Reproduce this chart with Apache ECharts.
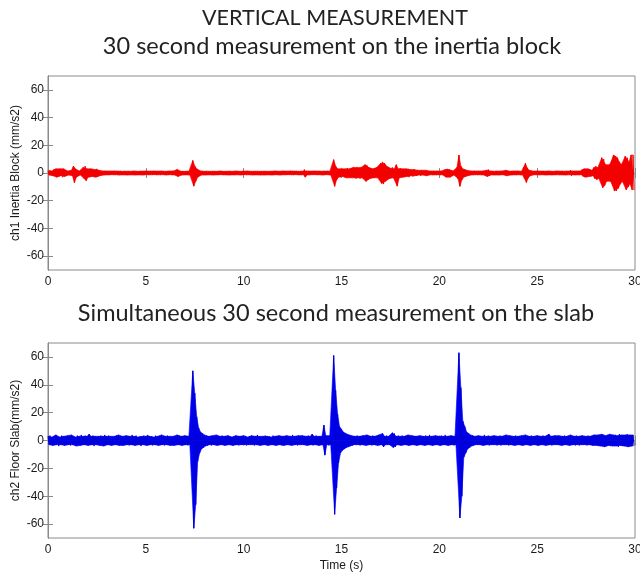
<!DOCTYPE html>
<html>
<head>
<meta charset="utf-8">
<script src="https://cdn.jsdelivr.net/npm/echarts@6/dist/echarts.min.js"></script>
<style>
html,body{margin:0;padding:0;background:#fff;}
#c{width:640px;height:575px;}
</style>
</head>
<body>
<div id="c"></div>
<script>
// Time axis: bins of 0.1 s starting at 0 s
const BIN_START = 0;
const BIN_STEP = 0.1;
const Y_TICKS = [-60, -40, -20, 0, 20, 40, 60];

// ch1 Inertia Block: positive and negative envelope per 0.1 s bin (mm/s2)
const RED_HI = [
  1.5,2,1.5,2.5,3,2,3,2.5,3,2,
  1.5,1.5,2,5,3,2,1.5,2,4,5,
  3,2.5,3,2,2.5,3,2,1.5,1.5,1.5,
  1.5,1.2,1.5,1.3,1.5,1.2,1.4,1.5,1.2,1.5,
  1.3,1.5,1.2,1.4,1.5,1.3,1.2,1.5,1.4,1.2,
  1.5,1.3,1.4,1.2,1.5,1.3,1.4,1.2,1.5,1.3,
  1.2,1.4,1.5,1.3,1.5,1.4,2.5,1.5,1.3,1.4,
  1.2,1.5,1.3,1.4,9,5,3,2,1.5,1.4,
  1.3,1.5,1.2,1.4,1.3,1.5,1.2,1.4,1.5,1.3,
  1.2,1.4,1.3,1.5,1.2,1.3,1.5,1.4,1.2,1.3,
  1.4,1.2,1.5,1.3,1.2,1.4,1.3,1.5,1.2,1.4,
  1.3,1.5,1.2,1.4,1.3,1.2,1.5,1.4,1.3,1.2,
  1.5,1.3,1.4,1.2,1.5,1.3,1.4,1.5,1.2,1.3,
  1.4,2.5,1.5,1.3,1.4,1.2,1.5,1.3,1.4,1.5,
  1.3,1.5,1.4,1.5,1.3,1.5,9.6,5,3,2.5,
  3,2.5,3,3.5,3,3.5,4,3.5,4,3.5,
  4,3.5,6,5.5,4,3.5,3,3.5,4,3,
  7,8,7,5,4,3.5,4,3,6,3,
  3.5,3,2.5,3,3,2.5,2,2.5,2,2,
  1.5,2,1.5,2,1.5,1.5,1.3,1.5,1.4,1.5,
  1.3,1.5,1.4,2.5,3,2.5,2,1.5,1.5,4,
  13,5,3,2.5,2,1.5,1.5,1.4,1.5,1.3,
  1.5,1.4,1.5,1.3,2,2.5,1.5,1.4,1.3,1.5,
  1.4,1.3,1.5,1.4,2,1.5,1.3,1.4,1.5,1.3,
  1.5,1.4,1.3,4,7,3.5,2,1.5,1.4,1.3,
  1.5,1.3,1.4,1.5,1.3,1.4,1.5,1.3,1.2,1.4,
  1.5,1.3,1.4,1.5,1.3,1.5,1.4,2,1.5,1.4,
  1.5,1.4,1.5,2.5,3,2.5,3,2.5,2,4,
  5,4,3.5,11,10,6,5,6,9,13,
  12,11,8,6,7,12,11,8,13,13
];
const RED_LO = [
  1.5,1.5,2,2,3,2.5,2,3,2.5,2,
  1.5,1.5,2,7,3,2,1.5,2,4,5.5,
  3,3,2.5,2.5,3,2.5,2,1.5,1.5,1.3,
  1.4,1.5,1.2,1.5,1.3,1.4,1.5,1.2,1.4,1.3,
  1.5,1.2,1.4,1.3,1.5,1.2,1.4,1.3,1.5,1.4,
  1.2,1.5,1.3,1.4,1.2,1.5,1.3,1.5,1.2,1.4,
  1.5,1.3,1.2,1.5,1.4,1.3,2.5,1.4,1.5,1.2,
  1.4,1.3,1.5,1.3,9.5,6,3,2,1.5,1.3,
  1.5,1.2,1.4,1.3,1.5,1.2,1.4,1.3,1.2,1.5,
  1.4,1.3,1.5,1.2,1.4,1.5,1.3,1.2,1.5,1.4,
  1.2,1.5,1.3,1.4,1.5,1.2,1.4,1.3,1.5,1.2,
  1.5,1.3,1.4,1.2,1.5,1.4,1.3,1.2,1.5,1.4,
  1.3,1.5,1.2,1.4,1.3,1.5,1.2,1.3,1.4,1.5,
  1.2,3,1.4,1.5,1.3,1.4,1.2,1.5,1.3,1.4,
  1.5,1.3,1.2,1.4,1.5,1.4,9.6,5,3,3,
  2.5,3,3.5,3,3.5,3,3.5,4,3.5,4,
  3.5,4,6,5,4,3.5,3.5,3,3.5,4,
  7.5,8,6,5,4,3.5,3.5,3,9.5,3.5,
  3,3,2.5,2.5,3,2,2.5,2,2,1.5,
  2,1.5,1.5,2,1.5,1.3,1.5,1.4,1.5,1.3,
  1.5,1.3,1.5,3,2.5,3,2,1.5,1.4,4,
  9.6,5,3,2.5,2,1.5,1.4,1.5,1.3,1.5,
  1.3,1.5,1.4,1.5,2.5,2,1.4,1.5,1.5,1.3,
  1.5,1.4,1.3,1.5,2,1.4,1.5,1.3,1.4,1.5,
  1.3,1.5,1.4,4,6.8,3.5,2,1.5,1.3,1.4,
  1.4,1.5,1.3,1.4,1.5,1.3,1.4,1.5,1.4,1.3,
  1.3,1.5,1.4,1.3,1.5,1.4,1.3,2,1.4,1.5,
  1.4,1.5,1.3,2.5,3,3,2.5,2.5,2,4,
  5,4,3.5,10.6,9,6,5,6,9,13,
  13,11,8,6,7,12,10,8,12,12
];

// ch2 Floor Slab: positive and negative envelope per 0.1 s bin (mm/s2)
const BLUE_HI = [
  3,3.5,2.5,3,4,3,2.5,3.5,3,3,
  3.5,3,4,3,2.5,3.5,3,4,3,3.5,
  3,4.5,3,3.5,3,2.5,3,3.5,3,4,
  3,3.5,3,2.5,3,3.5,4,3,3,2.5,
  3.5,3,3,4,3,3.5,2.5,3,3,3.5,
  3,4,3,3,2.5,3.5,3,3,4,3,
  3,3.5,3,2.5,3,3,4,3.5,3,3,
  3.5,3,3,4,50,34,17,9,6,5,
  4,3.5,3,3,3.5,3,4,3,3,3.5,
  3,3,3.5,3,2.5,3,3.5,3,3,3,
  3.5,3,2.5,3,3.5,3,3,4,3,2.5,
  3,3.5,3,3,2.5,3.5,3,3,3.5,3,
  3,3,3.5,2.5,3,4,3,3,3.5,3,
  3.5,3,3,3.5,3,4.5,3,3.5,3,3,
  3,11,3.5,3,3.5,3,61,36,19,10,
  8,6,5,4.5,4,3.5,3,3,3.5,3,
  3,3.5,3,4,3,3,3.5,3,3,4,
  3,5,3,3.5,3,3,5.5,5,3,3.5,
  3,3.5,3,3,4,3,3.5,3,3,3,
  3.5,3,3,3.5,3,4,3,3,3.5,3,
  3,3.5,3,4,3,3,3.5,3,3,4,
  63,38,14,10,6,5,4,3.5,3,3,
  3.5,3,3,4,3,3.5,3,3,3.5,3,
  3,3.5,3,3,4,3,3.5,3,3,3.5,
  3,3,3.5,3,4,3,3,3.5,3,3,
  3.5,3,3,3.5,3,3,4.5,3,3,3.5,
  3,3.5,3,3,3.5,3,3,4,3,3,
  3.5,3,3,3.5,3,3,3.5,3,3,4,
  3.5,4,3.5,4.5,4,3.5,4,4.5,3.5,4,
  4,3.5,4.5,4,3.5,4,4.5,4,3.5,4
];
const BLUE_LO = [
  3,3,3.5,3,3,4,3,3,3.5,3,
  3,3.5,3,3,4,3,3.5,3,3,3,
  3.5,3,3,4,3,3,3.5,3,4,3,
  3,3,3.5,3,3,3,3.5,3,3.5,3,
  3,3.5,3,3,3.5,3,3,4,3,3,
  3.5,3,3,3.5,3,3,3.5,3,3,3.5,
  3,3,3.5,3,3.5,3,3,3,3.5,3,
  3,3.5,3,4,63,46,15,9,6,5,
  4,3.5,3,3.5,3,3,3.5,3,3,3,
  3.5,3,3,3,3.5,3,3,3.5,3,3,
  3,3.5,3,3,3,3.5,3,3,3.5,3,
  3,3,3.5,3,3,3,3.5,3,3,3.5,
  3.5,3,3,3,3.5,3,3,3.5,3,3,
  3,3,3.5,3,3,3.5,3,3,3.5,3,
  3,10.5,3,3.5,3,3,53,34,16,9,
  7,6,5,4.5,4,3.5,3,3,3,3.5,
  3,3,3.5,3,3,3.5,3,3,3.5,3,
  3,4.5,3,3,3,3,5,4.5,3,3,
  3.5,3,3,3,3.5,3,3,3,3.5,3,
  3,3,3.5,3,3,3,3.5,3,3,3,
  3.5,3,3,3,3.5,3,3,3.5,3,3,
  55.6,40,12,9,6,5,4,3.5,3,3,
  3,3,3.5,3,3,3.5,3,3,3,3.5,
  3,3.5,3,3,3,3.5,3,3,3.5,3,
  3,3,3.5,3,3,3,3.5,3,3,3,
  3.5,3,3,3,3.5,3,3,3.5,3,3,
  3,3,3.5,3,3,3,3.5,3,3,3.5,
  3,3.5,3,3,3,3.5,3,3,3.5,3,
  3.5,4,4,3.5,4.5,4,3.5,4,4,3.5,
  4,4.5,3.5,4,4,3.5,4.5,4,4,3.5
];

const TITLE_1 = 'VERTICAL MEASUREMENT';
const TITLE_2 = '30 second measurement on the inertia block';
const TITLE_3 = 'Simultaneous 30 second measurement on the slab';
const Y_NAME_1 = 'ch1 Inertia Block (mm/s2)';
const Y_NAME_2 = 'ch2 Floor Slab(mm/s2)';
const X_NAME = 'Time (s)';

// Oscillating trace: positive peak then negative peak in each bin
function trace(hi, lo) {
  const d = [];
  for (let i = 0; i < hi.length; i++) {
    const t = BIN_START + i * BIN_STEP;
    d.push([t, hi[i]]);
    d.push([t + BIN_STEP / 2, -lo[i]]);
  }
  return d;
}
// Envelope edge (upper with sign +1, lower with sign -1)
function edge(vals, sign, offset) {
  return vals.map((v, i) => [BIN_START + i * BIN_STEP + offset, sign * v]);
}

const AX = '#8a8a8a';
const LBL = '#1a1a1a';
const FONT = 'Liberation Sans, Arial, sans-serif';
const TFONT = 'Lato, Open Sans, sans-serif';

function xAx(grid, pos, showLabel, name) {
  return {
    gridIndex: grid, type: 'value', position: pos, min: 0, max: 30, interval: 5,
    axisLine: { show: true, lineStyle: { color: AX, width: 1 } },
    axisTick: { show: true, inside: true, length: 5, lineStyle: { color: AX } },
    axisLabel: { show: showLabel, color: LBL, fontSize: 12, fontFamily: FONT, margin: 6 },
    splitLine: { show: false },
    name: name || '', nameLocation: 'middle', nameGap: 22, nameMoveOverlap: false,
    nameTextStyle: { color: LBL, fontSize: 12, fontFamily: FONT }
  };
}
function yAx(grid, pos, showLabel, name) {
  return {
    gridIndex: grid, type: 'value', position: pos, min: -70, max: 70, interval: 10,
    axisLine: { show: true, lineStyle: { color: AX, width: 1 } },
    axisTick: { show: true, inside: true, length: 5, lineStyle: { color: AX }, customValues: Y_TICKS },
    axisLabel: { show: showLabel, color: LBL, fontSize: 12, fontFamily: FONT, margin: 4, customValues: Y_TICKS },
    splitLine: { show: false },
    name: name || '', nameLocation: 'middle', nameGap: 26, nameMoveOverlap: false,
    nameTextStyle: { color: LBL, fontSize: 12, fontFamily: FONT }
  };
}
function band(xi, yi, data, color) {
  return {
    type: 'line', xAxisIndex: xi, yAxisIndex: yi, data: data, showSymbol: false, symbol: 'none',
    sampling: null, silent: true, lineStyle: { color: color, width: 0.6 }, itemStyle: { color: color },
    areaStyle: { color: color, opacity: 1, origin: 0 }
  };
}
function sig(xi, yi, data, color) {
  return {
    type: 'line', xAxisIndex: xi, yAxisIndex: yi, data: data, showSymbol: false, symbol: 'none',
    sampling: null, silent: true, lineStyle: { color: color, width: 1 }, itemStyle: { color: color }
  };
}
function titleText(text, x, y, size) {
  return {
    type: 'text', x: x, y: y, silent: true,
    style: { text: text, fill: '#222', font: 'normal ' + size + 'px ' + TFONT, textAlign: 'center', textVerticalAlign: 'middle' }
  };
}

const chart = echarts.init(document.getElementById('c'), null, { renderer: 'canvas' });
chart.setOption({
  animation: false,
  backgroundColor: '#ffffff',
  graphic: [
    titleText(TITLE_1, 335, 18, 21.5),
    titleText(TITLE_2, 332, 46, 23.5),
    titleText(TITLE_3, 336, 313, 23.5)
  ],
  grid: [
    { left: 48, right: 5, top: 76, height: 194, show: true, borderColor: AX, borderWidth: 1, backgroundColor: 'transparent', containLabel: false, outerBoundsMode: 'none' },
    { left: 48, right: 5, top: 343, height: 195, show: true, borderColor: AX, borderWidth: 1, backgroundColor: 'transparent', containLabel: false, outerBoundsMode: 'none' }
  ],
  xAxis: [
    xAx(0, 'bottom', true),
    xAx(0, 'top', false),
    xAx(1, 'bottom', true, X_NAME),
    xAx(1, 'top', false)
  ],
  yAxis: [
    yAx(0, 'left', true, Y_NAME_1),
    yAx(0, 'right', false),
    yAx(1, 'left', true, Y_NAME_2),
    yAx(1, 'right', false)
  ],
  series: [
    band(0, 0, edge(RED_HI, 1, 0), '#ff0000'),
    band(0, 0, edge(RED_LO, -1, BIN_STEP / 2), '#ff0000'),
    sig(0, 0, trace(RED_HI, RED_LO), '#f00000'),
    band(2, 2, edge(BLUE_HI, 1, 0), '#0000ff'),
    band(2, 2, edge(BLUE_LO, -1, BIN_STEP / 2), '#0000ff'),
    sig(2, 2, trace(BLUE_HI, BLUE_LO), '#0000d8')
  ]
});
</script>
</body>
</html>
